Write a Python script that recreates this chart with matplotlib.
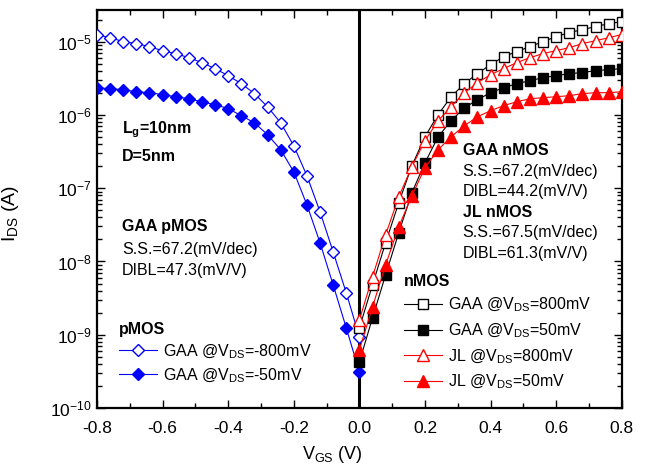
import numpy as np
import matplotlib
matplotlib.use("Agg")
import matplotlib.pyplot as plt
from matplotlib.ticker import LogLocator, MultipleLocator, NullFormatter, LogFormatterMathtext

plt.rcParams['font.family'] = ['Liberation Sans', 'DejaVu Sans']
plt.rcParams['mathtext.fontset'] = 'custom'
plt.rcParams['mathtext.rm'] = 'Liberation Sans'
plt.rcParams['mathtext.it'] = 'Liberation Sans:italic'
plt.rcParams['mathtext.bf'] = 'Liberation Sans:bold'
plt.rcParams['mathtext.default'] = 'regular'

# gate voltage sweeps (V)
vg_p = np.round(np.arange(-0.80, 0.001, 0.04), 2)
vg_n = np.round(np.arange(0.0, 0.801, 0.04), 2)

# pMOS, GAA, Vds = -800 mV / -50 mV
ids_p_gaa_800 = [1.25e-5, 1.13e-5, 1.0e-5, 9.4e-6, 8.55e-6, 7.5e-6, 6.86e-6,
                 6.04e-6, 5.17e-6, 4.28e-6, 3.43e-6, 2.67e-6, 1.95e-6, 1.29e-6,
                 7.8e-7, 3.79e-7, 1.48e-7, 4.76e-8, 1.35e-8, 3.73e-9, 9.3e-10]
ids_p_gaa_50 = [2.35e-6, 2.28e-6, 2.21e-6, 2.07e-6, 2.01e-6, 1.89e-6, 1.77e-6,
                1.66e-6, 1.51e-6, 1.38e-6, 1.22e-6, 9.75e-7, 7.8e-7, 5.37e-7,
                3.35e-7, 1.67e-7, 5.93e-8, 1.80e-8, 4.79e-9, 1.24e-9, 3.1e-10]

# nMOS, GAA and JL, Vds = 800 mV / 50 mV
ids_n_gaa_800 = [1.24e-9, 4.79e-9, 1.80e-8, 6.32e-8, 2.02e-7, 5.03e-7, 1.01e-6,
                 1.77e-6, 2.67e-6, 3.66e-6, 4.85e-6, 6.24e-6, 7.3e-6, 8.55e-6,
                 1.0e-5, 1.17e-5, 1.33e-5, 1.46e-5, 1.60e-5, 1.76e-5, 1.87e-5]
ids_n_gaa_50 = [4.25e-10, 1.70e-9, 6.56e-9, 2.46e-8, 8.65e-8, 2.22e-7, 5.03e-7,
                8.34e-7, 1.25e-6, 1.61e-6, 2.01e-6, 2.35e-6, 2.67e-6, 2.93e-6,
                3.22e-6, 3.43e-6, 3.66e-6, 3.78e-6, 4.02e-6, 4.15e-6, 4.28e-6]
ids_n_jl_800 = [1.59e-9, 6.16e-9, 2.31e-8, 7.63e-8, 1.96e-7, 4.44e-7, 8.34e-7,
                1.29e-6, 2.01e-6, 2.75e-6, 3.54e-6, 4.28e-6, 5.17e-6, 6.04e-6,
                6.86e-6, 7.54e-6, 8.28e-6, 9.39e-6, 1.03e-5, 1.13e-5, 1.25e-5]
ids_n_jl_50 = [6.2e-10, 2.40e-9, 8.99e-9, 2.97e-8, 7.87e-8, 1.90e-7, 3.35e-7,
               5.03e-7, 7.11e-7, 9.44e-7, 1.14e-6, 1.34e-6, 1.51e-6, 1.66e-6,
               1.72e-6, 1.77e-6, 1.83e-6, 1.95e-6, 2.01e-6, 2.01e-6, 2.07e-6]

fig = plt.figure(figsize=(6.49, 4.68), dpi=100)
ax = fig.add_axes([0.1495, 0.1282, 0.8085, 0.8504])

ax.axvline(0, color='black', lw=2.2, zorder=1)

lw = 0.8
p1, = ax.plot(vg_p, ids_p_gaa_800, color='blue', lw=lw, marker='D', ms=6.5,
              mfc='white', mec='blue', mew=1.0, label=r'GAA @$V_{DS}$=-800mV', zorder=3)
p2, = ax.plot(vg_p, ids_p_gaa_50, color='blue', lw=lw, marker='D', ms=6.5,
              mfc='blue', mec='blue', label=r'GAA @$V_{DS}$=-50mV', zorder=3)
n1, = ax.plot(vg_n, ids_n_gaa_800, color='black', lw=lw, marker='s', ms=6.5,
              mfc='white', mec='black', mew=1.0, label=r'GAA @$V_{DS}$=800mV', zorder=3)
n2, = ax.plot(vg_n, ids_n_gaa_50, color='black', lw=lw, marker='s', ms=6.5,
              mfc='black', mec='black', label=r'GAA @$V_{DS}$=50mV', zorder=3)
n3, = ax.plot(vg_n, ids_n_jl_800, color='red', lw=lw, marker='^', ms=8,
              mfc='white', mec='red', mew=1.0, label=r'JL @$V_{DS}$=800mV', zorder=3)
n4, = ax.plot(vg_n, ids_n_jl_50, color='red', lw=lw, marker='^', ms=8,
              mfc='red', mec='red', label=r'JL @$V_{DS}$=50mV', zorder=3)

ax.set_yscale('log')
ax.set_xlim(-0.8, 0.8)
ax.set_ylim(1e-10, 2.7e-5)
ax.xaxis.set_major_locator(MultipleLocator(0.2))
ax.xaxis.set_minor_locator(MultipleLocator(0.1))
ax.xaxis.set_major_formatter(plt.FuncFormatter(lambda v, p: f'{v:.1f}'))
ax.yaxis.set_major_locator(LogLocator(base=10, numticks=20))
ax.yaxis.set_minor_locator(LogLocator(base=10, subs=np.arange(2, 10), numticks=50))
ax.yaxis.set_minor_formatter(NullFormatter())
ax.yaxis.set_major_formatter(LogFormatterMathtext())
ax.tick_params(which='both', direction='in', top=True, right=True, width=1.0,
               labelsize=12.5)
ax.tick_params(which='major', length=6)
ax.tick_params(which='minor', length=3.5)
ax.tick_params(axis='x', which='major', pad=9)
for s in ax.spines.values():
    s.set_linewidth(1.6)

ax.set_xlabel(r'$V_{GS}$ (V)', fontsize=13)
ax.xaxis.set_label_coords(0.448, -0.09)
ax.set_ylabel(r'$I_{DS}$ (A)', fontsize=14)
ax.yaxis.set_label_coords(-0.145, 0.49)

fs = 11.5
ax.text(0.048, 0.700, r'$\mathbf{L_g}$=10nm', transform=ax.transAxes,
        fontsize=fs, fontweight='bold', va='center')
ax.text(0.048, 0.633, 'D=5nm', transform=ax.transAxes,
        fontsize=fs, fontweight='bold', va='center')

ax.text(0.048, 0.455, 'GAA pMOS', transform=ax.transAxes, fontsize=fs,
        fontweight='bold', va='center')
ax.text(0.048, 0.398, 'S.S.=67.2(mV/dec)', transform=ax.transAxes, fontsize=fs, va='center')
ax.text(0.048, 0.345, 'DIBL=47.3(mV/V)', transform=ax.transAxes, fontsize=fs, va='center')

ax.text(0.697, 0.648, 'GAA nMOS', transform=ax.transAxes, fontsize=fs,
        fontweight='bold', va='center')
ax.text(0.697, 0.593, 'S.S.=67.2(mV/dec)', transform=ax.transAxes, fontsize=fs, va='center')
ax.text(0.697, 0.543, 'DIBL=44.2(mV/V)', transform=ax.transAxes, fontsize=fs, va='center')
ax.text(0.697, 0.492, 'JL nMOS', transform=ax.transAxes, fontsize=fs,
        fontweight='bold', va='center')
ax.text(0.697, 0.442, 'S.S.=67.5(mV/dec)', transform=ax.transAxes, fontsize=fs, va='center')
ax.text(0.697, 0.389, 'DIBL=61.3(mV/V)', transform=ax.transAxes, fontsize=fs, va='center')

leg_p = ax.legend(handles=[p1, p2], title='pMOS', loc='upper left',
                  bbox_to_anchor=(0.035, 0.225), frameon=False, fontsize=fs,
                  title_fontproperties={'weight': 'bold', 'size': fs},
                  alignment='left', handlelength=2.4, handletextpad=0.4,
                  labelspacing=0.35, borderaxespad=0, borderpad=0.2)
ax.add_artist(leg_p)
ax.legend(handles=[n1, n2, n3, n4], title='nMOS', loc='upper left',
          bbox_to_anchor=(0.578, 0.345), frameon=False, fontsize=fs,
          title_fontproperties={'weight': 'bold', 'size': fs},
          alignment='left', handlelength=2.4, handletextpad=0.4,
          labelspacing=0.45, borderaxespad=0, borderpad=0.2)

fig.savefig('out.png', dpi=100)
